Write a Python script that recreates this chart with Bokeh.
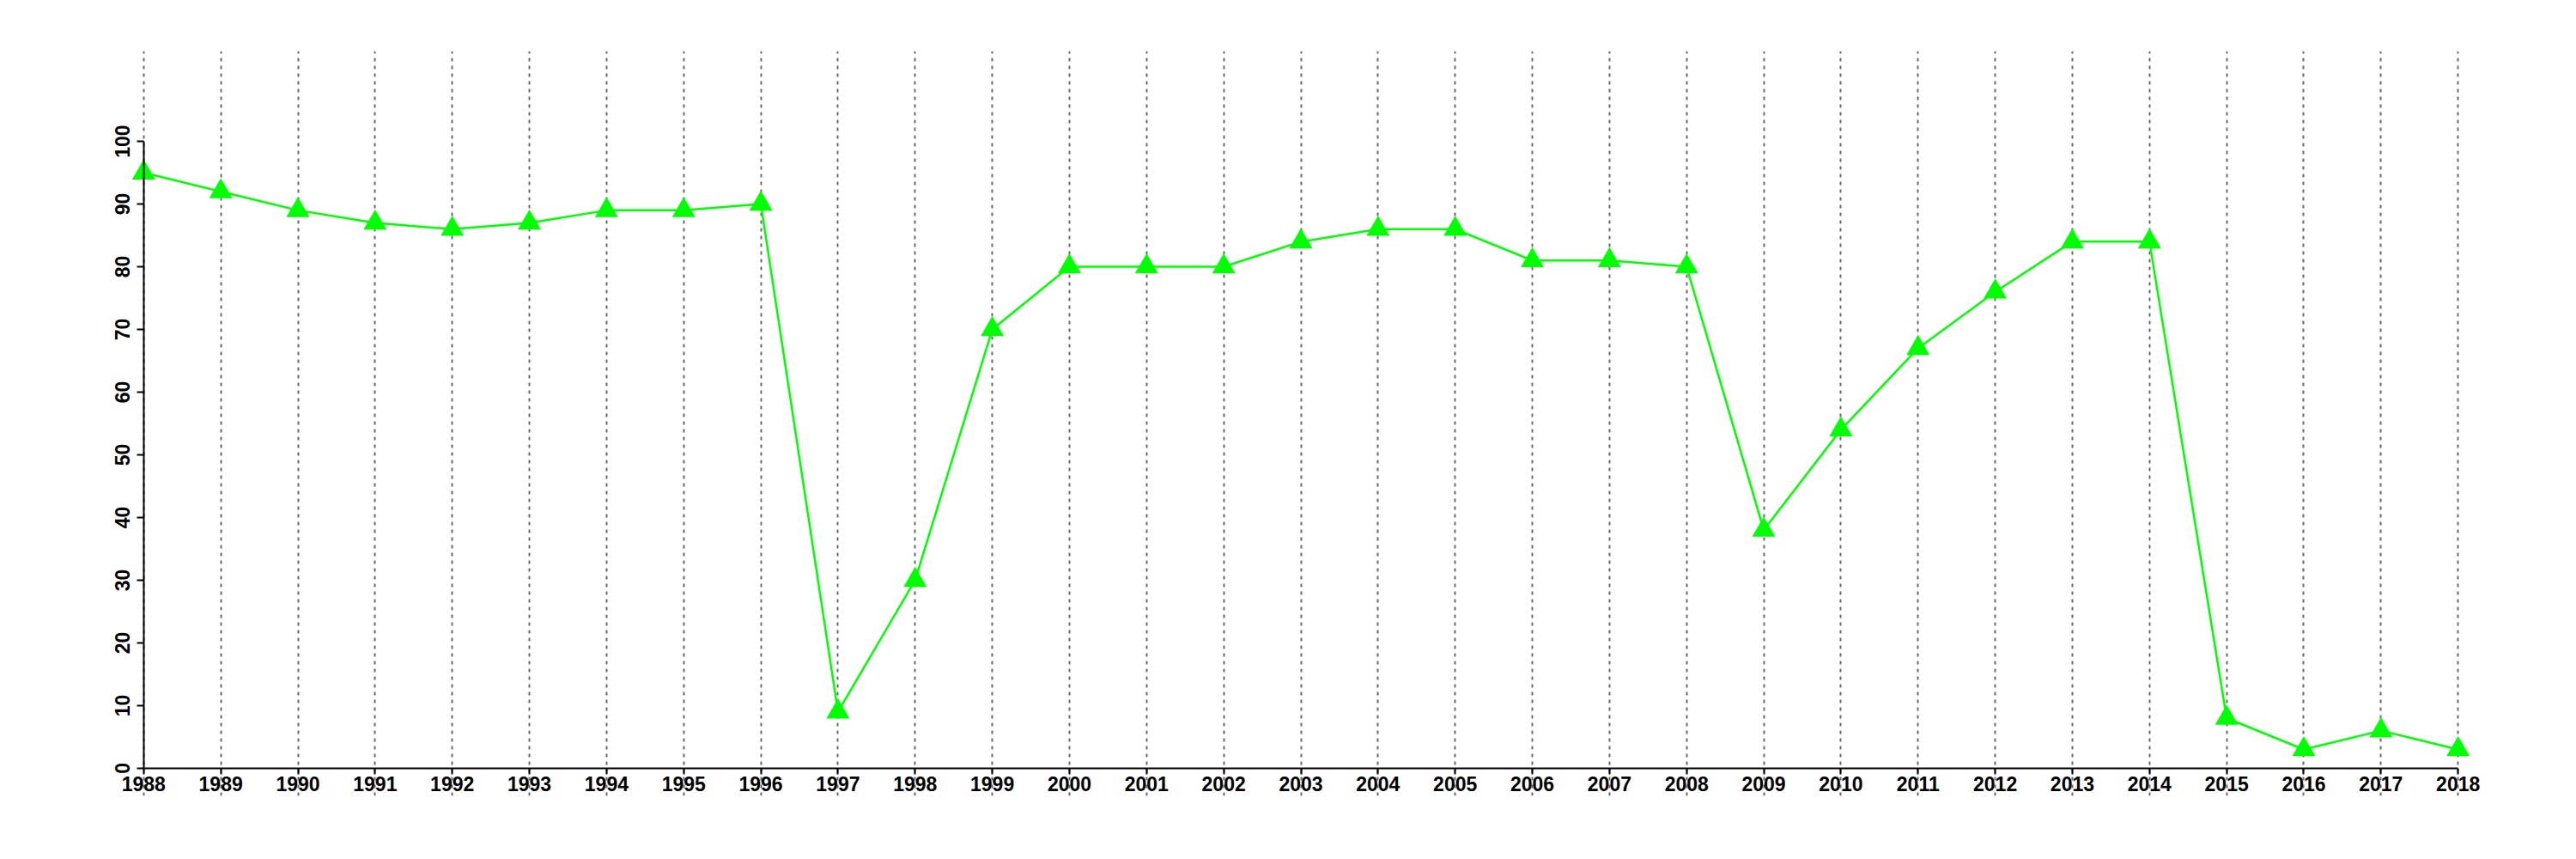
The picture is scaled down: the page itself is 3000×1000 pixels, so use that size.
from bokeh.plotting import figure
from bokeh.models import LinearAxis, FixedTicker, Range1d, Grid
from bokeh.embed import file_html
from bokeh.resources import INLINE

years = list(range(1988, 2019))
values = [95, 92, 89, 87, 86, 87, 89, 89, 90, 9, 30, 70, 80, 80, 80, 84, 86, 86,
          81, 81, 80, 38, 54, 67, 76, 84, 84, 8, 3, 6, 3]
y_ticks = [0, 10, 20, 30, 40, 50, 60, 70, 80, 90, 100]

W, H = 2984, 984
p = figure(width=W, height=H, output_backend="svg", toolbar_location=None,
           x_range=Range1d(1986.8, 2019.2), y_range=Range1d(-4.4, 114.4),
           x_axis_type=None, y_axis_type=None,
           min_border_left=59, min_border_right=W - 2970,
           min_border_top=59, min_border_bottom=H - 926)
p.outline_line_color = None
p.background_fill_color = "white"
p.border_fill_color = "white"

FONT = "Liberation Sans"
FS = "23px"

xaxis = LinearAxis(ticker=FixedTicker(ticks=years), fixed_location=0,
                   bounds=(1988, 2018))
xaxis.major_tick_out = 7
xaxis.major_tick_in = 0
xaxis.minor_tick_out = 0
xaxis.minor_tick_in = 0
xaxis.axis_line_width = 2
xaxis.major_tick_line_width = 2
xaxis.axis_line_color = "black"
xaxis.major_label_text_font = FONT
xaxis.major_label_text_font_size = FS
xaxis.major_label_text_font_style = "bold"
xaxis.major_label_text_color = "black"
xaxis.major_label_standoff = 3
p.add_layout(xaxis, "below")

yaxis = LinearAxis(ticker=FixedTicker(ticks=y_ticks), fixed_location=1988,
                   bounds=(0, 100))
yaxis.major_tick_out = 8
yaxis.major_tick_in = 0
yaxis.minor_tick_out = 0
yaxis.minor_tick_in = 0
yaxis.axis_line_width = 2
yaxis.major_tick_line_width = 2
yaxis.axis_line_color = "black"
yaxis.major_label_text_font = FONT
yaxis.major_label_text_font_size = FS
yaxis.major_label_text_font_style = "bold"
yaxis.major_label_text_color = "black"
yaxis.major_label_orientation = "vertical"
yaxis.major_label_standoff = 8
p.add_layout(yaxis, "left")

grid = Grid(dimension=0, ticker=FixedTicker(ticks=years),
            grid_line_color="#6a6a6a", grid_line_width=2, grid_line_dash="4 5")
p.add_layout(grid)

p.line(years, values, line_color="#00ff00", line_width=2.5)
p.scatter(years, values, marker="triangle", size=27, fill_color="#00ff00",
          line_color=None)

open("out.html", "w").write(file_html(p, INLINE))
